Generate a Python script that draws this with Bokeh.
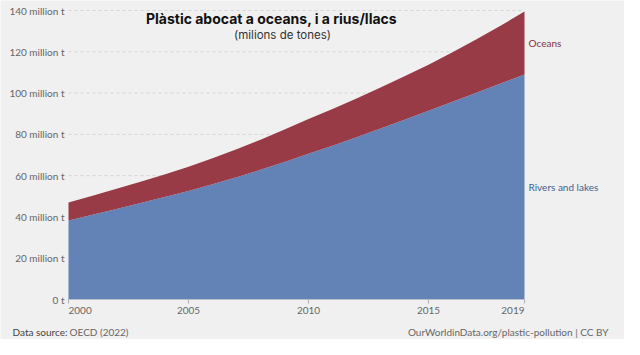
from bokeh.plotting import figure
from bokeh.models import ColumnDataSource, Label, Range1d
from bokeh.core.properties import value
from bokeh.embed import file_html
from bokeh.resources import INLINE

years = list(range(2000, 2020))
rivers_lakes = [38.3, 41.0, 43.8, 46.7, 49.6, 52.6, 55.8, 59.2, 62.8, 66.6,
                70.6, 74.5, 78.6, 82.8, 87.1, 91.4, 95.8, 100.2, 104.6, 109.0]
oceans = [8.7, 9.2, 9.8, 10.4, 11.0, 11.7, 12.6, 13.6, 14.6, 15.7,
          16.8, 17.8, 18.8, 19.9, 21.0, 22.3, 24.0, 25.9, 28.0, 30.5]
series_names = ["Rivers and lakes", "Oceans"]
y_ticks = [0, 20, 40, 60, 80, 100, 120, 140]
y_tick_labels = ["0 t", "20 million t", "40 million t", "60 million t", "80 million t",
                 "100 million t", "120 million t", "140 million t"]
x_ticks = [2000, 2005, 2010, 2015, 2019]
x_tick_labels = ["2000", "2005", "2010", "2015", "2019"]
title_text = "Plàstic abocat a oceans, i a rius/llacs"
subtitle_text = "(milions de tones)"
source_label = "Data source:"
source_value = "OECD (2022)"
credit_text = "OurWorldinData.org/plastic-pollution | CC BY"

BG = "#f0f0f0"
RED = "#993b47"
BLUE = "#6383b6"
TXT = "#666666"
FONT = value("Lato")

# layout (pixels inside the figure)
W, H = 624, 339
PX_LEFT, PX_RIGHT = 68, 524      # plot area left / right edge
PX_BOTTOM, PX_TOP = 299, 10      # plot area bottom / top edge
xmin, xmax = years[0], years[-1]
ymin, ymax = y_ticks[0], y_ticks[-1]
kx = (PX_RIGHT - PX_LEFT) / (xmax - xmin)
ky = (PX_BOTTOM - PX_TOP) / (ymax - ymin)
x_range = Range1d(xmin - PX_LEFT / kx, xmax + (W - PX_RIGHT) / kx)
y_range = Range1d(ymin - (H - PX_BOTTOM) / ky, ymax + PX_TOP / ky)

p = figure(width=W, height=H, output_backend="svg", toolbar_location=None,
           x_range=x_range, y_range=y_range, x_axis_location=None, y_axis_location=None,
           min_border=0, background_fill_color=BG, border_fill_color=BG)
p.outline_line_color = None
p.xgrid.visible = False
p.ygrid.visible = False

# dashed grid lines
p.segment(x0=[xmin] * len(y_ticks), x1=[xmax] * len(y_ticks), y0=y_ticks, y1=y_ticks,
          line_color="#d4d4d4", line_width=1, line_dash="3 3")

# stacked areas
src = ColumnDataSource(dict(year=years, rivers=rivers_lakes, oceans=oceans))
p.varea_stack(stackers=["rivers", "oceans"], x="year", source=src, color=[BLUE, RED])

# x axis line and ticks
p.segment(x0=[xmin], x1=[xmax], y0=[ymin], y1=[ymin], line_color="#b9c0c8", line_width=1)
p.segment(x0=x_ticks, x1=x_ticks, y0=[ymin] * len(x_ticks),
          y1=[ymin - 4 / ky] * len(x_ticks), line_color="#b0b0b0", line_width=1)

# y tick labels
p.text(x=[xmin] * len(y_ticks), y=y_ticks, text=y_tick_labels, x_offset=-4,
       text_align="right", text_baseline="middle", text_font=FONT,
       text_font_size="10px", text_color=TXT)

# x tick labels (first left-aligned, last right-aligned)
aligns = ["left"] + ["center"] * (len(x_ticks) - 2) + ["right"]
p.text(x=x_ticks, y=[ymin] * len(x_ticks), text=x_tick_labels, text_align=aligns,
       y_offset=11, text_baseline="middle", text_font=FONT,
       text_font_size="10px", text_color=TXT)

# series labels at band midpoints of the last year
r_last = rivers_lakes[-1]
o_last = oceans[-1]
p.text(x=[xmax, xmax], y=[r_last / 2, r_last + o_last / 2], text=series_names,
       x_offset=4, text_align="left", text_baseline="middle", text_font=FONT,
       text_font_size="10px", text_color=["#3e5d8f", "#82303b"])

# title & subtitle (screen units, y measured from bottom)
p.add_layout(Label(x=271, y=H - 18, x_units="screen", y_units="screen", text=title_text,
                   text_align="center", text_baseline="alphabetic", text_font="Inter",
                   text_font_style="bold", text_font_size="14px", text_color="#111111"))
p.add_layout(Label(x=282, y=H - 34, x_units="screen", y_units="screen", text=subtitle_text,
                   text_align="center", text_baseline="middle", text_font="Inter",
                   text_font_size="11.5px", text_color="#333333"))

# footer
p.add_layout(Label(x=12, y=H - 331, x_units="screen", y_units="screen", text=source_label,
                   text_align="left", text_baseline="middle", text_font="Lato",
                   text_font_size="10px", text_color="#444444"))
p.add_layout(Label(x=69, y=H - 331, x_units="screen", y_units="screen", text=source_value,
                   text_align="left", text_baseline="middle", text_font="Lato",
                   text_font_size="10px", text_color=TXT))
p.add_layout(Label(x=608, y=H - 331, x_units="screen", y_units="screen", text=credit_text,
                   text_align="right", text_baseline="middle", text_font="Lato",
                   text_font_size="10px", text_color=TXT))

open("out.html", "w").write(file_html(p, INLINE))
